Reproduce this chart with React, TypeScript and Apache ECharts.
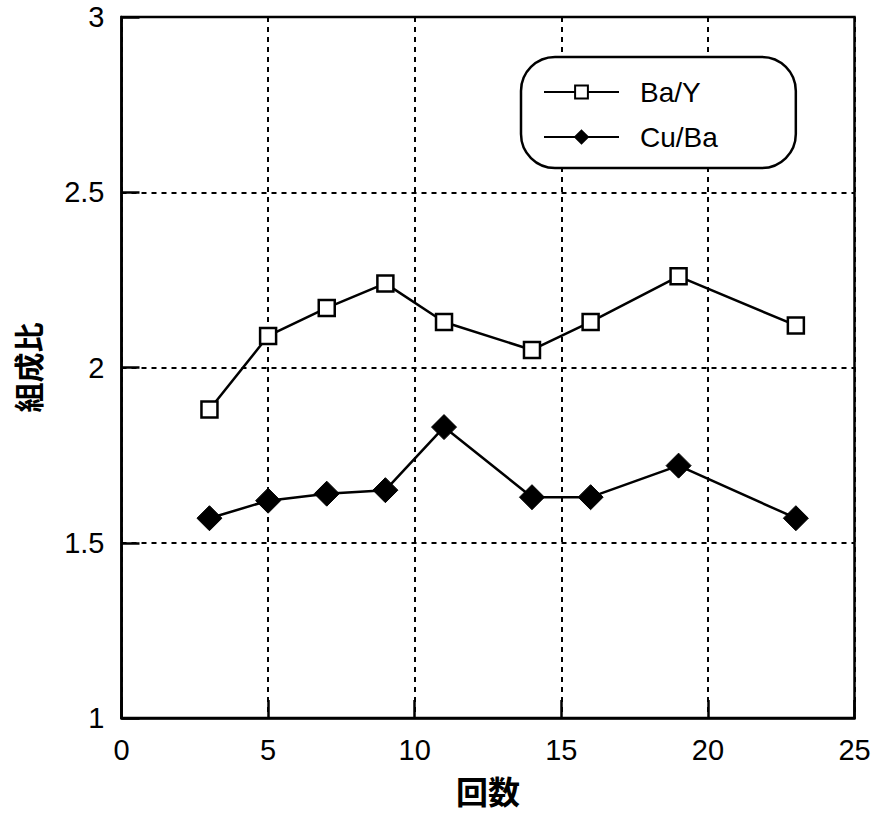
import React, { useEffect, useRef } from "react";
import * as echarts from "echarts";

const xValues = [3, 5, 7, 9, 11, 14, 16, 19, 23];
const baY = [1.88, 2.09, 2.17, 2.24, 2.13, 2.05, 2.13, 2.26, 2.12];
const cuBa = [1.57, 1.62, 1.64, 1.65, 1.83, 1.63, 1.63, 1.72, 1.57];
const seriesNames = ["Ba/Y", "Cu/Ba"];
const xAxisName = "回数";
const yAxisName = "組成比";

export default function App() {
  const ref = useRef<HTMLDivElement>(null);
  useEffect(() => {
    if (!ref.current) return;
    const chart = echarts.init(ref.current, null, { renderer: "svg" });
    const font = "'Liberation Sans', Arial, Helvetica, sans-serif";
    const cjk = "'Noto Sans CJK JP', sans-serif";
    const gridLine = { show: true, lineStyle: { color: "#000", width: 2, type: [5, 5] as any } };
    chart.setOption({
      animation: false,
      backgroundColor: "#fff",
      grid: {
        left: 121.5,
        right: 25.5,
        top: 17,
        bottom: 97,
        outerBoundsMode: "none",
        containLabel: false,
        show: true,
        borderColor: "#000",
        borderWidth: 2.5,
        backgroundColor: "transparent",
      },
      legend: {
        data: seriesNames,
        orient: "vertical",
        left: 521,
        top: 57,
        padding: [21, 78, 17, 22],
        itemGap: 17,
        itemWidth: 75,
        itemHeight: 16,
        borderColor: "#000",
        borderWidth: 2.5,
        borderRadius: 34,
        backgroundColor: "#fff",
        textStyle: { fontFamily: font, fontSize: 28, color: "#000", padding: [0, 0, 0, 16] },
      },
      xAxis: {
        type: "value",
        min: 0,
        max: 25,
        interval: 5,
        name: xAxisName,
        nameLocation: "middle",
        nameGap: 56,
        nameTextStyle: { fontFamily: cjk, fontSize: 32, fontWeight: "bold", color: "#000" },
        axisLine: { show: true, lineStyle: { color: "#000", width: 2.5 } },
        axisTick: { show: true, inside: true, length: 18, lineStyle: { color: "#000", width: 2.5 } },
        axisLabel: { fontFamily: font, fontSize: 29, color: "#000", margin: 17 },
        splitLine: gridLine,
      },
      yAxis: {
        type: "value",
        min: 1,
        max: 3,
        interval: 0.5,
        name: yAxisName,
        nameLocation: "middle",
        nameGap: 80,
        nameRotate: 90,
        nameTextStyle: { fontFamily: cjk, fontSize: 30, fontWeight: "bold", color: "#000" },
        axisLine: { show: true, lineStyle: { color: "#000", width: 2.5 } },
        axisTick: { show: true, inside: true, length: 18, lineStyle: { color: "#000", width: 2.5 } },
        axisLabel: { fontFamily: font, fontSize: 29, color: "#000", margin: 17 },
        splitLine: gridLine,
      },
      series: [
        {
          name: seriesNames[0],
          type: "line",
          data: xValues.map((x, i) => [x, baY[i]]),
          symbol: "rect",
          symbolSize: 16,
          lineStyle: { color: "#000", width: 2.5 },
          itemStyle: { color: "#fff", borderColor: "#000", borderWidth: 2.5 },
          z: 3,
        },
        {
          name: seriesNames[1],
          type: "line",
          data: xValues.map((x, i) => [x, cuBa[i]]),
          symbol: "diamond",
          symbolSize: 25,
          lineStyle: { color: "#000", width: 2.5 },
          itemStyle: { color: "#000", borderColor: "#000", borderWidth: 1 },
          z: 3,
        },
      ],
    });
    return () => chart.dispose();
  }, []);
  return (
    <div
      ref={ref}
      style={{ position: "fixed", left: 0, top: 0, width: 880, height: 815, background: "#fff" }}
    />
  );
}
